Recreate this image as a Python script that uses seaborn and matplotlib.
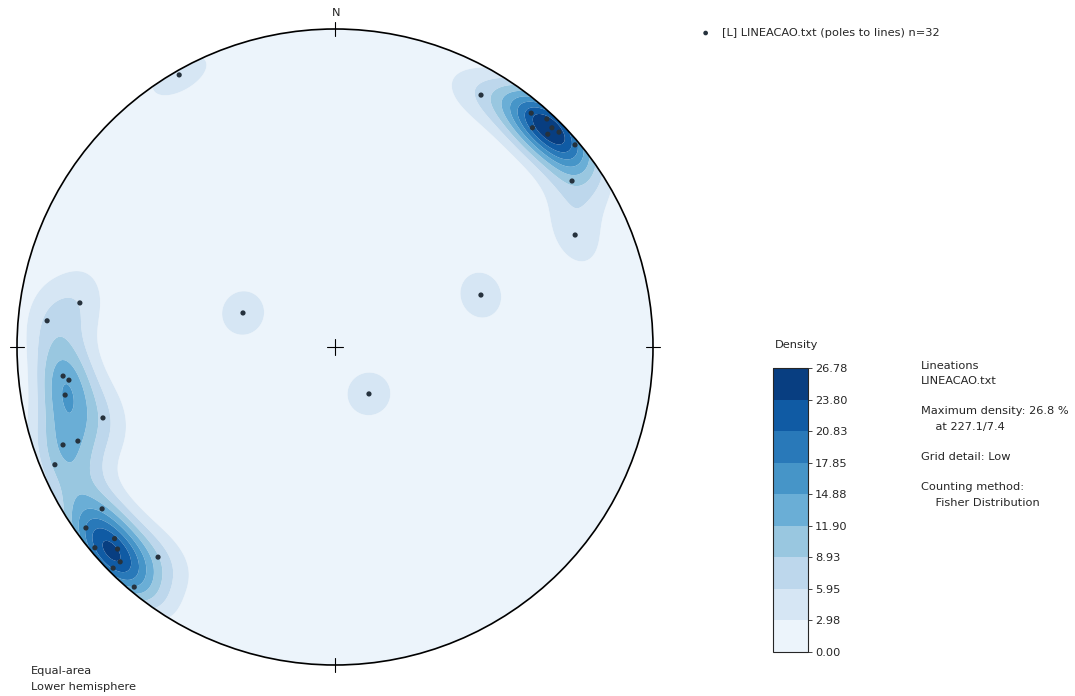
import numpy as np
import pandas as pd
import matplotlib
matplotlib.use("Agg")
import matplotlib.pyplot as plt
import seaborn as sns
from matplotlib.patches import Circle

# lineations (trend / plunge in degrees)
trend = [330.2, 30.1, 40.0, 42.9, 44.7, 46.2, 49.9, 55.0, 65.0, 70.4, 290.3, 144.1,
         279.8, 275.2, 263.9, 262.9, 259.9, 253.0, 249.9, 250.2, 247.2,
         235.2, 234.0, 230.1, 225.1, 219.9, 220.1,
         227.1, 225.0, 229.0, 45.0, 42.0]
plunge = [1.6, 9.3, 4.5, 2.4, 3.4, 2.7, 1.5, 9.9, 17.8, 49.7, 64.8, 75.2,
          19.7, 10.0, 15.1, 16.8, 14.9, 24.7, 15.0, 10.0, 5.0,
          11.8, 3.6, 1.8, 1.7, 1.8, 14.7,
          7.4, 5.0, 9.0, 6.0, 8.0]

max_density = 26.78
n_ticks = 10
sub_bands = 1
kappa = 80.0

legend_label = "[L] LINEACAO.txt (poles to lines) n=32"
info_lines = ["Lineations", "LINEACAO.txt", "", "Maximum density: 26.8 %",
              "    at 227.1/7.4", "", "Grid detail: Low", "", "Counting method:",
              "    Fisher Distribution"]


def to_xyz(t, p):
    t, p = np.radians(t), np.radians(p)
    return np.stack([np.cos(p) * np.sin(t), np.cos(p) * np.cos(t), np.sin(p)], axis=-1)


def project(t, p):
    # equal-area (Schmidt) projection, primitive circle radius 1
    r = np.sqrt(2) * np.sin(np.radians(90 - np.asarray(p)) / 2)
    t = np.radians(np.asarray(t))
    return r * np.sin(t), r * np.cos(t)


sns.set_style("white")
plt.rcParams['font.family'] = ['DejaVu Sans']
fs = 8.2

fig = plt.figure(figsize=(10.75, 6.96), dpi=100)
ax = fig.add_axes([17 / 1075, 31 / 696, 636 / 1075, 636 / 696])
ax.set_xlim(-1, 1)
ax.set_ylim(-1, 1)
ax.set_aspect('equal')
ax.axis('off')

# density grid (Fisher kernel, lower hemisphere only)
g = np.linspace(-1.02, 1.02, 301)
gx, gy = np.meshgrid(g, g)
gr = np.clip(np.hypot(gx, gy), 0, 1)
colat = 2 * np.arcsin(gr / np.sqrt(2))
gp = 90 - np.degrees(colat)
gt = np.degrees(np.arctan2(gx, gy))
nodes = to_xyz(gt, gp)
pts = to_xyz(np.array(trend), np.array(plunge))
dots = np.tensordot(nodes, pts, axes=([2], [1]))
dens = np.exp(kappa * (dots - 1)).sum(axis=2)
dens = dens / dens.max() * max_density

ticks = np.linspace(0, max_density, n_ticks)
levels = np.linspace(0, max_density, (n_ticks - 1) * sub_bands + 1)
circle = Circle((0, 0), 1, transform=ax.transData, facecolor='none')
cs = ax.contourf(gx, gy, dens, levels=levels, cmap='Blues', antialiased=True)
cs.set_clip_path(circle)

ax.add_patch(Circle((0, 0), 1, facecolor='none', edgecolor='black', lw=1.2, clip_on=False))

# cardinal ticks and centre cross
t = 0.022
for x0, y0, dx, dy in [(0, 1, 0, 1), (0, -1, 0, 1), (1, 0, 1, 0), (-1, 0, 1, 0)]:
    ax.plot([x0 - t * dx, x0 + t * dx], [y0 - t * dy, y0 + t * dy], color='black', lw=0.8, clip_on=False)
c = 0.025
ax.plot([-c, c], [0, 0], color='black', lw=0.8)
ax.plot([0, 0], [-c, c], color='black', lw=0.8)
ax.text(0.005, 1.035, "N", ha='center', va='bottom', fontsize=fs)

px, py = project(trend, plunge)
df = pd.DataFrame({'x': px, 'y': py})
sns.scatterplot(data=df, x='x', y='y', ax=ax, s=14, color='#26323d', edgecolor='none',
                linewidth=0, label=legend_label, zorder=5, clip_on=False)
ax.legend(loc='center left', bbox_to_anchor=(684 / 1075, 1 - 33 / 696), bbox_transform=fig.transFigure,
          frameon=False, fontsize=fs, handletextpad=0.4, markerscale=0.9)

# colorbar
cax = fig.add_axes([773 / 1075, 44 / 696, 35 / 1075, 284 / 696])
cb = fig.colorbar(cs, cax=cax, ticks=ticks)
cb.ax.set_yticklabels([f"{v:.2f}" for v in ticks])
cb.ax.tick_params(labelsize=fs, length=3, width=0.6, pad=2)
cb.outline.set_linewidth(0.8)
fig.text(775 / 1075, 1 - 345 / 696, "Density", fontsize=fs, va='center')

y = 366
for line in info_lines:
    if line:
        fig.text(921 / 1075, 1 - y / 696, line, fontsize=fs, va='center')
    y += 15.5 if line else 14.5

fig.text(31 / 1075, 1 - 671 / 696, "Equal-area", fontsize=fs, va='center')
fig.text(31 / 1075, 1 - 687 / 696, "Lower hemisphere", fontsize=fs, va='center')

fig.savefig("out.png", dpi=100)
